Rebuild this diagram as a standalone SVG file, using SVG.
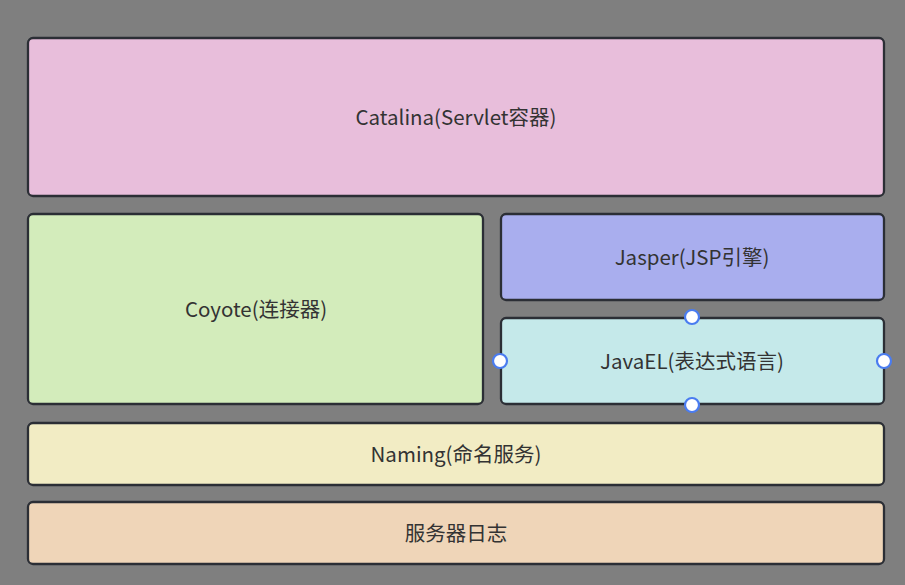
<svg xmlns="http://www.w3.org/2000/svg" width="905" height="585" viewBox="0 0 905 585">
<style>
.b{stroke:#2b2e35;stroke-width:2.3}
.t{font-family:"Noto Sans CJK SC","Noto Sans",sans-serif;font-size:20.5px;fill:#333;text-anchor:middle;dominant-baseline:central}
.h{fill:#fff;stroke:#4a7cf0;stroke-width:2.2}
</style>
<rect width="905" height="585" fill="#7f7f7f"/>
<g id="catalina"><rect class="b" x="28" y="38" width="856" height="158" rx="5" fill="#e8bedb"/><text class="t" x="456" y="116">Catalina(Servlet容器)</text></g>
<g id="coyote"><rect class="b" x="28" y="214" width="455" height="190" rx="5" fill="#d3ecbb"/><text class="t" x="256" y="308">Coyote(连接器)</text></g>
<g id="jasper"><rect class="b" x="501" y="214" width="383" height="86" rx="5" fill="#a9aeee"/><text class="t" x="692" y="256">Jasper(JSP引擎)</text></g>
<g id="javael"><rect class="b" x="501" y="318" width="383" height="86" rx="5" fill="#c5e9ea"/><text class="t" x="692" y="360">JavaEL(表达式语言)</text></g>
<g id="naming"><rect class="b" x="28" y="423" width="856" height="62" rx="5" fill="#f2ecc4"/><text class="t" x="456" y="453">Naming(命名服务)</text></g>
<g id="log"><rect class="b" x="28" y="502" width="856" height="62" rx="5" fill="#efd5b8"/><text class="t" x="456" y="532">服务器日志</text></g>
<g id="connectors"></g>
<g id="handles"><circle class="h" cx="692" cy="317" r="7"/><circle class="h" cx="500" cy="361" r="7"/><circle class="h" cx="884" cy="361" r="7"/><circle class="h" cx="692" cy="405" r="7"/></g>
</svg>
